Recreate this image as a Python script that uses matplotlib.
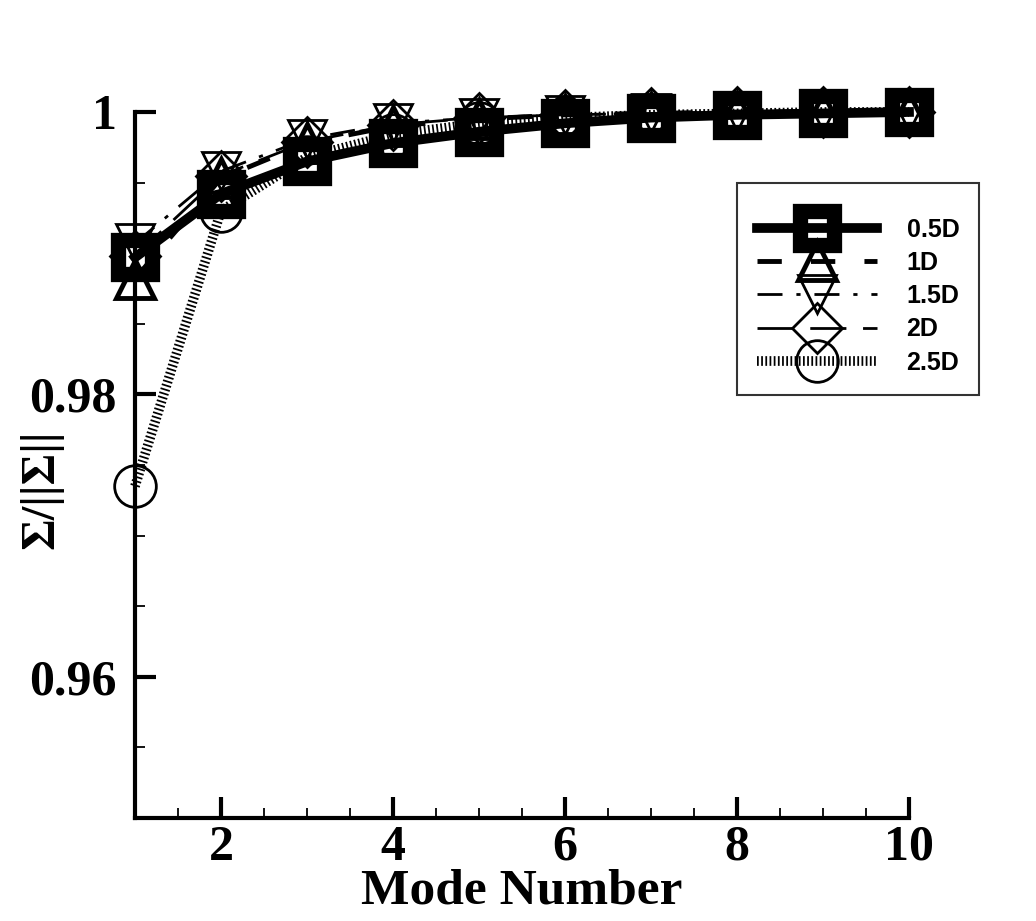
import matplotlib
matplotlib.use("Agg")
import matplotlib.pyplot as plt
from matplotlib.ticker import MultipleLocator

modes = [1, 2, 3, 4, 5, 6, 7, 8, 9, 10]
labels = ["0.5D", "1D", "1.5D", "2D", "2.5D"]
d05 = [0.9897, 0.9942, 0.9965, 0.9978, 0.9986, 0.9992, 0.9996, 0.9998, 0.9999, 1.0]
d10 = [0.9882, 0.9953, 0.9978, 0.9990, 0.9995, 0.9998, 0.9999, 1.0, 1.0, 1.0]
d15 = [0.9907, 0.9958, 0.9981, 0.9992, 0.9996, 0.9998, 0.9999, 1.0, 1.0, 1.0]
d20 = [0.9898, 0.9955, 0.9979, 0.9991, 0.9996, 0.9998, 0.9999, 1.0, 1.0, 1.0]
d25 = [0.9735, 0.9930, 0.9968, 0.9984, 0.9992, 0.9996, 0.9998, 0.9999, 1.0, 1.0]
series = [d05, d10, d15, d20, d25]

styles = [
    dict(ls="-", lw=7, marker="s", ms=25, mew=11),
    dict(ls=(0, (5, 6)), lw=3.5, marker="^", ms=27, mew=3.5),
    dict(ls=(0, (9, 5, 1.5, 5)), lw=2, marker="v", ms=27, mew=2),
    dict(ls=(0, (13, 6)), lw=2, marker="D", ms=25, mew=2),
    dict(ls=(0, (0.18, 0.25)), lw=7, marker="o", ms=30, mew=2),
]

fig = plt.figure(figsize=(10.36, 9.21), dpi=100)
ax = fig.add_axes([0.1303, 0.1118, 0.7471, 0.7666])

for y, lab, st in zip(series, labels, styles):
    ax.plot(modes, y, color="black", linestyle=st["ls"], linewidth=st["lw"],
            marker=st["marker"], markersize=st["ms"], markeredgewidth=st["mew"],
            markerfacecolor="none", markeredgecolor="black",
            dash_capstyle="butt", clip_on=False, label=lab)

ax.set_xlim(1, 10)
ax.set_ylim(0.95, 1.0)
ax.spines["top"].set_visible(False)
ax.spines["right"].set_visible(False)
for s in ("left", "bottom"):
    ax.spines[s].set_linewidth(3)
ax.xaxis.set_major_locator(MultipleLocator(2))
ax.xaxis.set_minor_locator(MultipleLocator(0.5))
ax.yaxis.set_major_locator(MultipleLocator(0.02))
ax.yaxis.set_minor_locator(MultipleLocator(0.005))
ax.tick_params(which="major", direction="in", length=15, width=3, pad=13)
ax.tick_params(which="minor", direction="in", length=7, width=1.3)
ax.set_xticks([2, 4, 6, 8, 10])
ax.set_xticklabels(["2", "4", "6", "8", "10"])
ax.set_yticks([0.96, 0.98, 1.0])
ax.set_yticklabels(["0.96", "0.98", "1"])
for t in ax.get_xticklabels() + ax.get_yticklabels():
    t.set_fontfamily("Liberation Serif")
    t.set_fontweight("bold")
    t.set_fontsize(36)
ax.tick_params(axis="x", which="major", pad=5)

ax.set_xlabel("Mode Number", fontfamily="Liberation Serif", fontweight="bold",
              fontsize=37, labelpad=-2)
ax.set_ylabel("Σ/||Σ||", fontfamily="Liberation Serif", fontweight="bold",
              fontsize=35)
ax.yaxis.set_label_coords(-0.093, 0.465)

leg = ax.legend(loc="upper left", bbox_to_anchor=(0.711, 0.801),
                bbox_transform=fig.transFigure, frameon=True, fancybox=False,
                prop=dict(family="Liberation Sans", weight="bold", size=18),
                handlelength=4.8, handletextpad=1.2, labelspacing=0.37,
                borderpad=0.8, markerscale=1.0, borderaxespad=0,
                title=" ", title_fontsize=4)
leg.get_frame().set_edgecolor("black")
leg.get_frame().set_linewidth(1.5)

fig.savefig("out.png", dpi=100)
